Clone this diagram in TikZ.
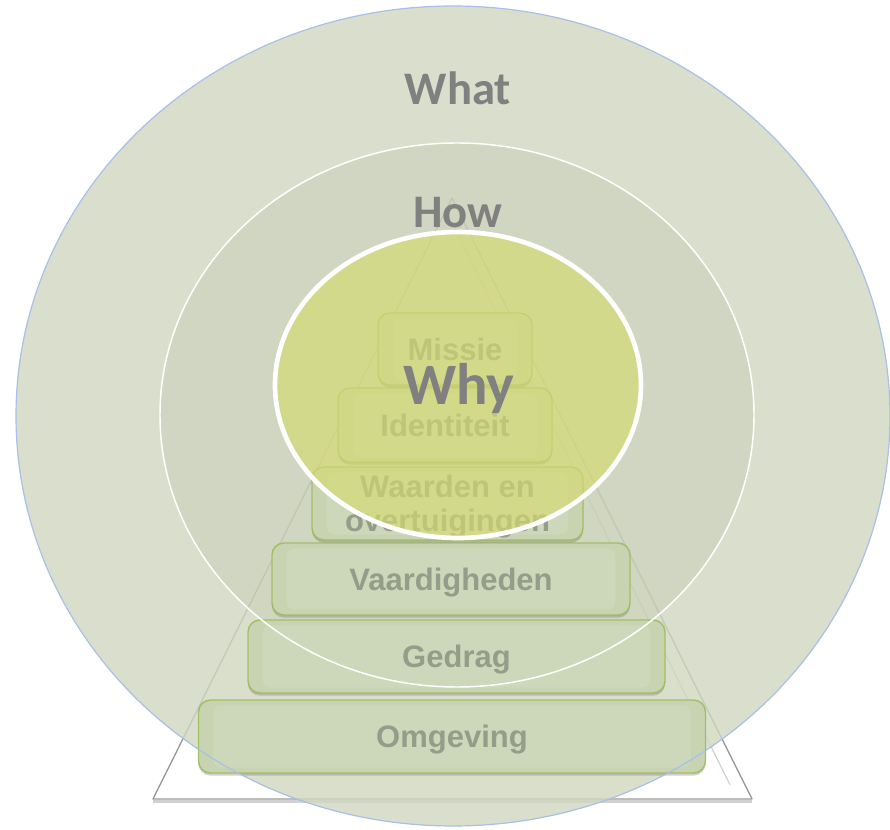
\documentclass[tikz,border=0pt]{standalone}
\usepackage{fontspec}
\setmainfont{Liberation Sans}
\newfontfamily\calfont{Carlito}
\usetikzlibrary{shadows}

\definecolor{ringouter}{RGB}{209,215,192}
\definecolor{ringmid}{RGB}{180,190,160}
\definecolor{core}{RGB}{213,219,112}
\definecolor{rimblue}{RGB}{168,192,232}
\definecolor{stepfill}{RGB}{200,211,178}
\definecolor{stepline}{RGB}{155,187,89}
\definecolor{steptext}{RGB}{150,156,138}
\definecolor{headtext}{RGB}{128,128,128}

\tikzset{
  level/.style={
    draw=stepline, draw opacity=.85, line width=1.1pt, fill=stepfill,
    rounded corners=9pt, text=steptext, align=center, inner sep=0pt,
    font=\bfseries\fontsize{23.25}{25.5}\selectfont,
    text height=16.65pt, text depth=0pt,
    drop shadow={shadow xshift=0pt, shadow yshift=-2pt, opacity=.3, fill=black!60},
    path picture={
      \fill[white, opacity=.1, rounded corners=6pt]
        ([xshift=11pt,yshift=4pt]path picture bounding box.south west)
        rectangle ([xshift=-11pt,yshift=-4pt]path picture bounding box.north east);
    }
  },
  heading/.style={text=headtext, inner sep=0pt, anchor=base,
    font=\calfont\bfseries\fontsize{35}{40}\selectfont},
}

\begin{document}
\begin{tikzpicture}[x=0.75pt,y=-0.75pt]
  \useasboundingbox (0,0) rectangle (890,830);

  % pyramid outline with a soft shadow under its base
  \coordinate (apex) at (452,198);
  \coordinate (bl) at (153,799);
  \coordinate (br) at (752,799);
  \draw[black!45, line width=2pt, opacity=.4] ([yshift=-2pt]bl) -- ([yshift=-2pt]br);
  \filldraw[fill=white, draw=gray!80, line width=1pt, line join=round]
    (apex) -- (bl) -- (br) -- cycle;
  \coordinate (ia) at (452,222);
  \coordinate (ib) at (730,785);
  \draw[gray!40, line width=.8pt] (ia) -- (ib);

  % outer and middle rings
  \fill[ringouter, opacity=.8] (453,416) ellipse [x radius=327.75pt, y radius=307.5pt];
  \fill[ringmid, opacity=.25] (457,415) ellipse [x radius=222.75pt, y radius=204pt];

  % pyramid levels, bottom to top
  \node[level, minimum width=380.25pt, minimum height=54.75pt] (omgeving) at (452,736.5) {Omgeving};
  \node[level, minimum width=312.75pt, minimum height=54.75pt] (gedrag) at (456.5,656.5) {Gedrag};
  \node[level, minimum width=268.5pt, minimum height=54pt] (vaardigheden) at (451,579) {Vaardigheden};
  \node[level, minimum width=203.25pt, minimum height=54.75pt, text height=42.15pt] (waarden) at (447.5,503.5) {Waarden en\\overtuigingen};
  \node[level, minimum width=160.5pt, minimum height=55.5pt] (identiteit) at (445,425) {Identiteit};
  \node[level, minimum width=115.5pt, minimum height=54pt] (missie) at (455,349) {Missie};

  % inner core
  \fill[core, opacity=.66] (458,385) ellipse [x radius=137.25pt, y radius=114.75pt];

  % ring outlines
  \draw[rimblue, line width=.9pt] (453,416) ellipse [x radius=327.75pt, y radius=307.5pt];
  \draw[white, line width=1.1pt] (457,415) ellipse [x radius=222.75pt, y radius=204pt];
  \draw[white, line width=3.5pt] (458,385) ellipse [x radius=137.25pt, y radius=114.75pt];

  % ring labels
  \node[heading] (what) at (458,105) {What};
  \node[heading] (how) at (458,228) {How};
  \node[heading, font=\calfont\bfseries\fontsize{44}{50}\selectfont] (why) at (459,405) {Why};
\end{tikzpicture}
\end{document}
